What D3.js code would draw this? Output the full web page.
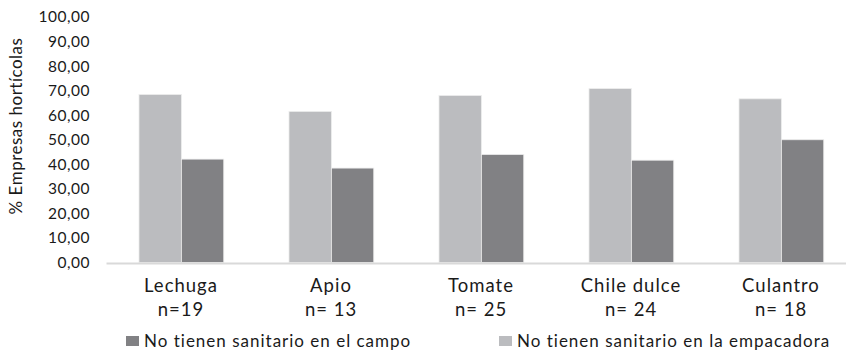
<!DOCTYPE html>
<html>
<head>
<meta charset="utf-8">
<script src="https://cdn.jsdelivr.net/npm/d3@7"></script>
<style>
  html, body { margin: 0; padding: 0; background: #fff; }
  svg { display: block; }
  text { font-family: Lato, "Open Sans", "Liberation Sans", sans-serif; fill: #1a1a1a; }
</style>
</head>
<body>
<svg id="chart" width="846" height="351"></svg>
<script>
// Hortícolas: share of companies without sanitary facilities
const categories = ["Lechuga", "Apio", "Tomate", "Chile dulce", "Culantro"];
const sampleLabels = ["n=19", "n= 13", "n= 25", "n= 24", "n= 18"];
const seriesNames = ["No tienen sanitario en la empacadora", "No tienen sanitario en el campo"];
const empacadora = [68.42, 61.54, 68.00, 70.83, 66.67];
const campo = [42.11, 38.46, 44.00, 41.67, 50.00];
const yTicks = [0, 10, 20, 30, 40, 50, 60, 70, 80, 90, 100];
const legendOrder = ["No tienen sanitario en el campo", "No tienen sanitario en la empacadora"];

const colors = {
  "No tienen sanitario en la empacadora": "#bbbcbf",
  "No tienen sanitario en el campo": "#818184"
};

const svg = d3.select("#chart");

const rows = categories.map((c, i) => ({
  cat: c,
  n: sampleLabels[i],
  values: [
    { key: seriesNames[0], value: empacadora[i] },
    { key: seriesNames[1], value: campo[i] }
  ]
}));

const x = d3.scaleBand().domain(categories).range([106, 856]).padding(0);
const bw = x.bandwidth();
const x1 = d3.scaleBand().domain(seriesNames).range([bw * 0.22, bw * 0.785]).padding(0);
const y = d3.scaleLinear().domain([0, 100]).range([262.5, 17]);

const locale = d3.formatLocale({ decimal: ",", thousands: ".", grouping: [3], currency: ["", ""] });
const fmt = locale.format(".2f");

// y axis labels (no line, no ticks)
const yAxis = d3.axisLeft(y).tickValues(yTicks).tickFormat(fmt).tickSize(0).tickPadding(0);
const yG = svg.append("g").attr("transform", "translate(90,0)").call(yAxis);
yG.select(".domain").remove();
yG.selectAll("text")
  .attr("font-size", 15.5)
  .attr("letter-spacing", 0.5)
  .attr("fill", "#1a1a1a")
  .style("font-family", "Lato, 'Open Sans', sans-serif");

// y title
svg.append("text")
  .attr("transform", `translate(22,${126}) rotate(-90)`)
  .attr("text-anchor", "middle")
  .attr("font-size", 17)
  .attr("letter-spacing", 0.5)
  .text("% Empresas hortícolas");

// bars
const groups = svg.append("g").selectAll("g")
  .data(rows)
  .join("g")
  .attr("transform", d => `translate(${x(d.cat)},0)`);

groups.selectAll("rect")
  .data(d => d.values)
  .join("rect")
  .attr("x", d => x1(d.key))
  .attr("width", x1.bandwidth())
  .attr("y", d => y(d.value))
  .attr("height", d => y(0) - y(d.value))
  .attr("fill", d => colors[d.key])
  .attr("stroke", "#ececec")
  .attr("stroke-width", 0.8);

// category axis line
const xAxis = d3.axisBottom(x).tickSize(0).tickFormat("");
const xG = svg.append("g").attr("transform", `translate(0,${y(0) + 0.5})`).call(xAxis);
xG.select(".domain").attr("stroke", "#d9d9d9").attr("stroke-width", 2);

// two-line category labels
const lbl = svg.append("g").selectAll("text")
  .data(rows)
  .join("text")
  .attr("text-anchor", "middle")
  .attr("font-size", 18.5)
  .attr("letter-spacing", 1);
lbl.append("tspan")
  .attr("x", d => x(d.cat) + bw / 2)
  .attr("y", 292)
  .text(d => d.cat);
lbl.append("tspan")
  .attr("x", d => x(d.cat) + bw / 2)
  .attr("y", 316)
  .text(d => d.n);

// legend
const legendPos = [126, 499];
const lg = svg.append("g").selectAll("g")
  .data(legendOrder)
  .join("g")
  .attr("transform", (d, i) => `translate(${legendPos[i]},336)`);
lg.append("rect")
  .attr("width", 13)
  .attr("height", 10)
  .attr("fill", d => colors[d]);
lg.append("text")
  .attr("x", 18)
  .attr("y", 11)
  .attr("font-size", 17)
  .attr("letter-spacing", 1)
  .text(d => d);
</script>
</body>
</html>
